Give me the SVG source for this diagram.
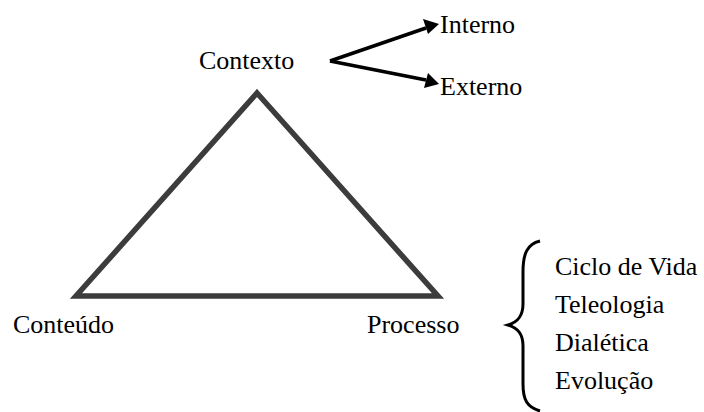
<svg xmlns="http://www.w3.org/2000/svg" width="704" height="412" viewBox="0 0 704 412">
<style>
.t{font-family:'Liberation Serif','Times New Roman','DejaVu Serif',serif;font-size:26px;fill:#000}
.arr{stroke:#000;stroke-width:3.5;fill:none}
</style>
<rect width="704" height="412" fill="#fff"/>
<g id="triangle">
<polygon points="257,93 438,296 76,296" fill="none" stroke="#3c3c3c" stroke-width="5.5" stroke-linejoin="miter"/>
</g>
<g id="connectors">
<path class="arr" d="M330,61 L426,28"/>
<path d="M439,24 L423,19 L428,34 z" fill="#000"/>
<path class="arr" d="M330,61 L426,80"/>
<path d="M439,84 L428,73 L424,88 z" fill="#000"/>
</g>
<g id="contexto"><text class="t" x="199" y="69">Contexto</text></g>
<g id="interno"><text class="t" x="440" y="33">Interno</text></g>
<g id="externo"><text class="t" x="440" y="95">Externo</text></g>
<g id="conteudo"><text class="t" x="13" y="333">Conteúdo</text></g>
<g id="processo"><text class="t" x="367" y="333">Processo</text></g>
<g id="brace">
<path d="M540,241 C527,244 523,254 523,272 L523,304 C523,316 518,322 508,325 C518,328 523,334 523,346 L523,384 C523,400 527,407 540,411" fill="none" stroke="#000" stroke-width="3"/>
</g>
<g id="lista">
<text class="t" x="555" y="275">Ciclo de Vida</text>
<text class="t" x="555" y="313">Teleologia</text>
<text class="t" x="555" y="351">Dialética</text>
<text class="t" x="555" y="389">Evolução</text>
</g>
</svg>
